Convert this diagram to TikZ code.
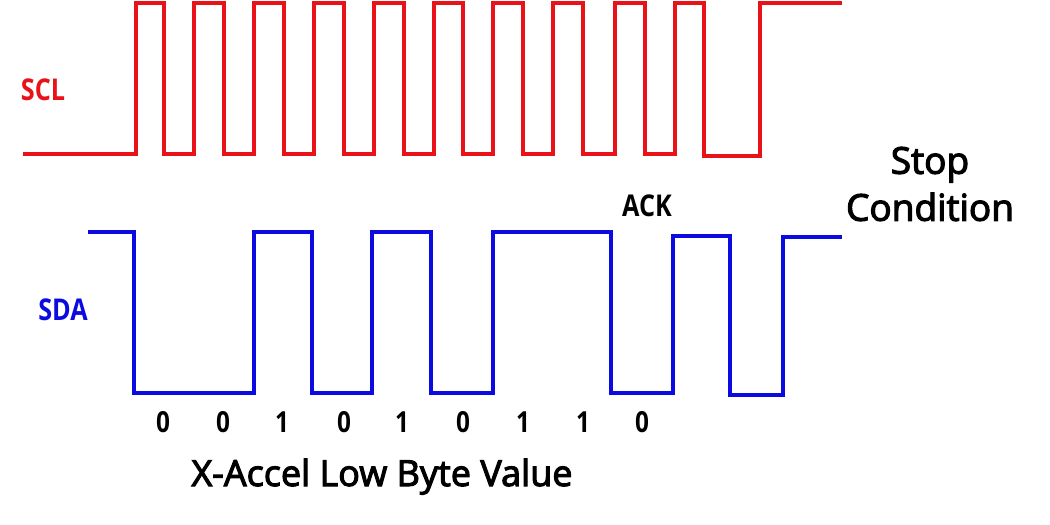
\documentclass[tikz,border=0pt]{standalone}
\usepackage{fontspec}
\setmainfont{Open Sans}
\newfontfamily\narrowfont{Open Sans}[FakeStretch=0.84]
\newfontfamily\heavyfont{Open Sans}[FakeBold=3]
\definecolor{sclred}{RGB}{232,18,24}
\definecolor{sdablue}{RGB}{10,10,225}
\begin{document}
\begin{tikzpicture}[x=1pt,y=-1pt,
  wave/.style={line width=4.6pt,line join=miter},
  siglabel/.style={font=\narrowfont\fontsize{30}{34}\selectfont\bfseries,anchor=base,inner sep=0pt},
  bitlabel/.style={font=\narrowfont\fontsize{29}{34}\selectfont\bfseries,anchor=base,inner sep=0pt},
  biglabel/.style={font=\heavyfont\fontsize{37}{47}\selectfont,anchor=base,inner sep=0pt}]
\useasboundingbox (0,0) rectangle (1050,525);
% SCL waveform
\draw[wave,sclred] (23,154) -- (136,154) -- (136,3) -- (164,3) -- (164,154)
  -- (194,154) -- (194,3) -- (224,3) -- (224,154)
  -- (254,154) -- (254,3) -- (284,3) -- (284,154)
  -- (314,154) -- (314,3) -- (344,3) -- (344,154)
  -- (374,154) -- (374,3) -- (404,3) -- (404,154)
  -- (434,154) -- (434,3) -- (463,3) -- (463,154)
  -- (493,154) -- (493,3) -- (523,3) -- (523,154)
  -- (553,154) -- (553,3) -- (583,3) -- (583,154)
  -- (615,154) -- (615,3) -- (645,3) -- (645,154)
  -- (675,154) -- (675,3) -- (704,3) -- (704,156)
  -- (760,156) -- (760,3) -- (842,3);
% SDA waveform
\draw[wave,sdablue] (88,232) -- (134,232) -- (134,393) -- (254,393) -- (254,232)
  -- (312,232) -- (312,393) -- (372,393) -- (372,232) -- (431,232) -- (431,393)
  -- (493,393) -- (493,232) -- (611,232) -- (611,393) -- (673,393) -- (673,236)
  -- (730,236) -- (730,395) -- (783,395) -- (783,237) -- (842,237);
% labels
\node[siglabel,text=sclred] (scl) at (43,100) {SCL};
\node[siglabel,text=sdablue] (sda) at (63,320) {SDA};
\node[siglabel] (ack) at (647,216) {ACK};
\node[bitlabel] (b1) at (163,432) {0};
\node[bitlabel] (b2) at (223,432) {0};
\node[bitlabel] (b3) at (282,432) {1};
\node[bitlabel] (b4) at (344,432) {0};
\node[bitlabel] (b5) at (402,432) {1};
\node[bitlabel] (b6) at (463,432) {0};
\node[bitlabel] (b7) at (523,432) {1};
\node[bitlabel] (b8) at (583,432) {1};
\node[bitlabel] (b9) at (642,432) {0};
\node[biglabel,font=\heavyfont\fontsize{36}{47}\selectfont] (xaccel) at (382,486) {X-Accel Low Byte Value};
\node[biglabel,align=center,anchor=center] (stop) at (930,184) {Stop\\Condition};
\end{tikzpicture}
\end{document}
